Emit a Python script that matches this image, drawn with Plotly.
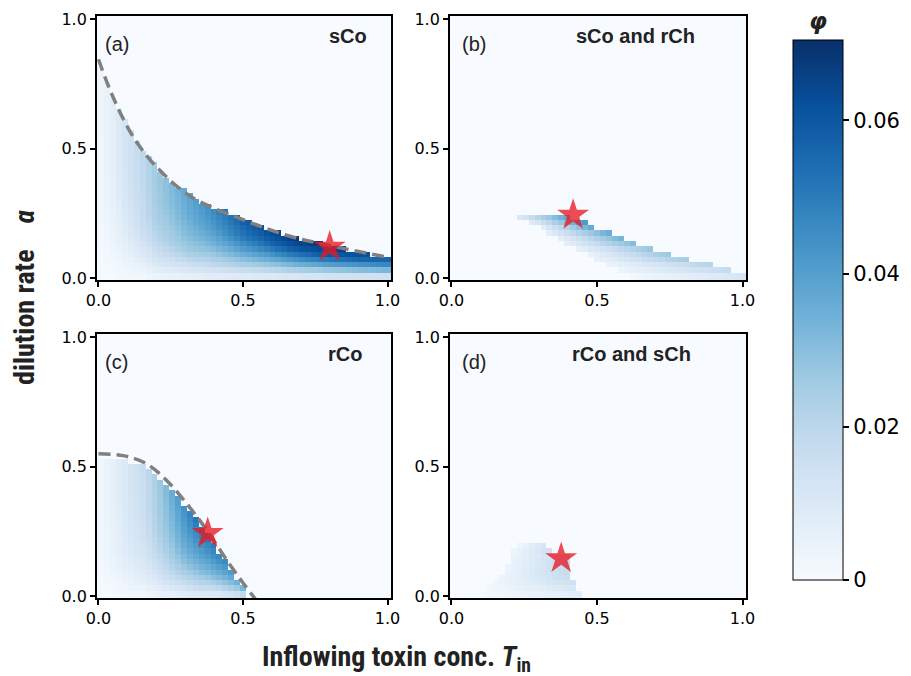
import numpy as np
import plotly.graph_objects as go

# ---------------- data ----------------
N_CELLS = 49
TICK_VALS = [0.0, 0.5, 1.0]
TICK_TEXT = ["0.0", "0.5", "1.0"]
CBAR_TICK_VALS = [0, 0.02, 0.04, 0.06]
CBAR_TICK_TEXT = ["0", "0.02", "0.04", "0.06"]
Z_MAX = 0.0705

PANEL_LABELS = ["(a)", "(b)", "(c)", "(d)"]
PANEL_TITLES = ["sCo", "sCo and rCh", "rCo", "rCo and sCh"]

# dashed boundary curves (Tin, alpha)
A_DASH_T = [0.0, 0.05, 0.12, 0.2, 0.32, 0.5, 0.66, 0.8, 1.0]
A_DASH_ALPHA = [0.845, 0.70, 0.546, 0.43, 0.314, 0.225, 0.162, 0.125, 0.08]
C_DASH_T = [0.0, 0.086, 0.167, 0.236, 0.305, 0.375, 0.444, 0.501, 0.545]
C_DASH_ALPHA = [0.549, 0.542, 0.51, 0.446, 0.357, 0.254, 0.138, 0.049, -0.015]

# red stars
STAR_T = [0.80, 0.418, 0.378, 0.377]
STAR_ALPHA = [0.12, 0.243, 0.242, 0.145]

# panel (a): phi (x1e-3) vs Tin (rows) and relative height alpha/alpha_boundary (cols)
A_TAB_T = [0.0, 0.05, 0.1, 0.15, 0.2, 0.3, 0.4, 0.5, 0.6, 0.7, 0.8, 0.9, 1.0]
A_TAB_FRAC = [0.0, 0.1, 0.2, 0.35, 0.5, 0.7, 1.0]
A_TAB_PHI = [
    [0, 1, 1, 2, 2, 2, 2],
    [1, 2, 4, 5, 6, 7, 7],
    [2, 4, 7, 10, 12, 13, 13],
    [2, 6, 10, 15, 17, 18, 19],
    [3, 9, 14, 20, 23, 25, 26],
    [4, 11, 18, 26, 30, 34, 37],
    [5, 13, 20, 28, 35, 42, 47],
    [5, 14, 22, 32, 41, 51, 58],
    [5, 14, 23, 34, 44, 56, 65],
    [6, 15, 24, 36, 47, 59, 69],
    [6, 15, 24, 36, 47, 59, 69],
    [6, 14, 23, 34, 44, 56, 65],
    [6, 13, 21, 31, 40, 51, 59],
]
A_EDGE_OFFSET = 0.0

# panel (c)
C_TAB_T = [0.0, 0.05, 0.1, 0.15, 0.2, 0.25, 0.3, 0.35, 0.4, 0.45, 0.5]
C_TAB_FRAC = [0.0, 0.1, 0.2, 0.35, 0.5, 0.7, 1.0]
C_TAB_PHI = [
    [0, 1, 1, 2, 2, 2, 2],
    [1, 2, 4, 5, 5, 6, 6],
    [2, 4, 7, 9, 10, 11, 11],
    [2, 6, 9, 12, 14, 15, 16],
    [3, 9, 13, 18, 21, 23, 24],
    [4, 12, 18, 24, 28, 31, 35],
    [6, 14, 21, 29, 35, 40, 46],
    [6, 16, 22, 31, 37, 44, 53],
    [6, 15, 21, 30, 36, 43, 51],
    [6, 14, 20, 27, 32, 38, 45],
    [5, 12, 17, 22, 26, 31, 36],
]
C_EDGE_OFFSET = 0.012

# panel (b): per alpha row (bottom -> top) Tin start, Tin end, phi at the end
B_ROW_LEFT = [0.62, 0.565, 0.535, 0.495, 0.475, 0.43, 0.39, 0.372, 0.333, 0.315, 0.275, 0.22]
B_ROW_RIGHT = [1.01, 0.967, 0.889, 0.809, 0.749, 0.691, 0.628, 0.59, 0.548, 0.49, 0.47, 0.415]
B_ROW_PEAK = [0.012, 0.018, 0.021, 0.025, 0.027, 0.028, 0.031, 0.034, 0.036, 0.038, 0.043, 0.040]

# panel (d)
D_ROW_LEFT = [0.10, 0.125, 0.15, 0.165, 0.175, 0.187, 0.195, 0.198, 0.205, 0.222]
D_ROW_RIGHT = [0.449, 0.43, 0.43, 0.41, 0.41, 0.41, 0.41, 0.41, 0.346, 0.333]
D_ROW_PEAK = [0.008, 0.011, 0.015, 0.017, 0.018, 0.018, 0.018, 0.017, 0.015, 0.013]

BLUES = ["#f7fbff", "#deebf7", "#c6dbef", "#9ecae1", "#6baed6",
         "#4292c6", "#2171b5", "#08519c", "#08306b"]

# ---------------- geometry ----------------
OFF = 8                      # page body margin of the browser
W, H = 911 - OFF, 676 - OFF  # figure size
X_RANGE = [-0.005, 1.012]
Y_RANGE = [-0.008, 1.012]
# screenshot pixel boxes (left, right, top, bottom)
BOXES = [(97, 391, 16, 280), (450, 746, 16, 280), (97, 391, 334, 598), (450, 746, 334, 598)]


def fx(p):
    return (p - OFF) / W


def fy(p):
    return 1 - (p - OFF) / H


edges = np.linspace(0, 1, N_CELLS + 1)
centers = (edges[:-1] + edges[1:]) / 2
x_edges = edges.copy(); x_edges[0] = X_RANGE[0]; x_edges[-1] = X_RANGE[1]
y_edges = edges.copy(); y_edges[0] = Y_RANGE[0]; y_edges[-1] = Y_RANGE[1]


def column_field(dash_t, dash_a, offset, tab_t, tab_f, tab_v):
    z = np.zeros((N_CELLS, N_CELLS))
    tv = np.array(tab_v, dtype=float) * 1e-3
    for j, tc in enumerate(centers):
        ab = np.interp(tc, dash_t, dash_a) - offset
        if ab <= 0:
            continue
        prof = [np.interp(tc, tab_t, tv[:, k]) for k in range(len(tab_f))]
        for i, ac in enumerate(centers):
            if ac < ab:
                z[i, j] = np.interp(ac / ab, tab_f, prof)
    return z


def row_field(left, right, peak, base=0.2):
    z = np.zeros((N_CELLS, N_CELLS))
    for i in range(len(left)):
        for j, tc in enumerate(centers):
            if left[i] < tc < right[i]:
                t = (tc - left[i]) / (right[i] - left[i])
                z[i, j] = peak[i] * (base + (1 - base) * t)
    return z


Z = [
    column_field(A_DASH_T, A_DASH_ALPHA, A_EDGE_OFFSET, A_TAB_T, A_TAB_FRAC, A_TAB_PHI),
    row_field(B_ROW_LEFT, B_ROW_RIGHT, B_ROW_PEAK),
    column_field(C_DASH_T, C_DASH_ALPHA, C_EDGE_OFFSET, C_TAB_T, C_TAB_FRAC, C_TAB_PHI),
    row_field(D_ROW_LEFT, D_ROW_RIGHT, D_ROW_PEAK),
]

colorscale = [[k / (len(BLUES) - 1), c] for k, c in enumerate(BLUES)]

fig = go.Figure()
layout = dict(
    width=W, height=H,
    margin=dict(l=0, r=0, t=0, b=0, autoexpand=False),
    paper_bgcolor="white", plot_bgcolor="#f7fbff",
    showlegend=False,
)

TICK_FONT = dict(family="DejaVu Sans", size=16, color="black")
annotations = []
for p in range(4):
    l, r, t, b = BOXES[p]
    xa = "xaxis" if p == 0 else f"xaxis{p+1}"
    ya = "yaxis" if p == 0 else f"yaxis{p+1}"
    xr = "x" if p == 0 else f"x{p+1}"
    yr = "y" if p == 0 else f"y{p+1}"
    common = dict(showline=True, mirror=True, linecolor="black", linewidth=1.8,
                  ticks="outside", ticklen=5, tickwidth=1.5, tickcolor="black",
                  tickvals=TICK_VALS, ticktext=TICK_TEXT, tickfont=TICK_FONT,
                  showgrid=False, zeroline=False, fixedrange=True)
    layout[xa] = dict(domain=[fx(l), fx(r)], range=X_RANGE, anchor=yr, **common)
    layout[ya] = dict(domain=[fy(b), fy(t)], range=Y_RANGE, anchor=xr, **common)

    hm = dict(z=Z[p], x=x_edges, y=y_edges, colorscale=colorscale, zmin=0, zmax=Z_MAX,
              xaxis=xr, yaxis=yr, hoverinfo="skip")
    if p == 0:
        hm.update(showscale=True, colorbar=dict(
            x=fx(793), xanchor="left", y=fy(310), yanchor="middle",
            len=540, lenmode="pixels", thickness=50, thicknessmode="pixels",
            xpad=0, ypad=0, outlinewidth=1, outlinecolor="black",
            ticks="outside", ticklen=6, tickwidth=1.5, tickcolor="black",
            tickvals=CBAR_TICK_VALS, ticktext=CBAR_TICK_TEXT,
            tickfont=dict(family="DejaVu Sans", size=21, color="black")))
    else:
        hm["showscale"] = False
    fig.add_trace(go.Heatmap(**hm))

    if p == 0:
        fig.add_trace(go.Scatter(x=A_DASH_T, y=A_DASH_ALPHA, mode="lines", xaxis=xr, yaxis=yr,
                                 line=dict(color="#808080", width=3.5, dash="12px,6px", shape="spline"),
                                 hoverinfo="skip"))
    if p == 2:
        fig.add_trace(go.Scatter(x=C_DASH_T, y=C_DASH_ALPHA, mode="lines", xaxis=xr, yaxis=yr,
                                 line=dict(color="#808080", width=3.5, dash="12px,6px", shape="spline"),
                                 hoverinfo="skip"))
    fig.add_trace(go.Scatter(x=[STAR_T[p]], y=[STAR_ALPHA[p]], mode="markers", xaxis=xr, yaxis=yr,
                             marker=dict(symbol="star", size=24, color="rgba(232,25,35,0.78)",
                                         line=dict(width=0)),
                             hoverinfo="skip", cliponaxis=False))

    annotations.append(dict(x=0.017 if p in (0, 2) else 0.028, y=0.905, xref=xr, yref=yr,
                            text=PANEL_LABELS[p], showarrow=False, xanchor="left", yanchor="middle",
                            font=dict(family="Liberation Sans, Arial", size=20, color="#222")))
    tx = [0.864, 0.631, 0.854, 0.62][p]
    annotations.append(dict(x=tx, y=0.936, xref=xr, yref=yr,
                            text=f"<b>{PANEL_TITLES[p]}</b>", showarrow=False,
                            xanchor="center", yanchor="middle",
                            font=dict(family="Liberation Sans, Arial", size=20, color="#222")))

TITLE_FONT = dict(family="Liberation Sans Narrow, Roboto Condensed, Roboto", size=28, color="#222")
annotations.append(dict(x=fx(24), y=fy(298), xref="paper", yref="paper",
                        text="<b>dilution rate    <i>α</i></b>", textangle=-90, showarrow=False,
                        xanchor="center", yanchor="middle", font=TITLE_FONT))
annotations.append(dict(x=fx(396), y=fy(658), xref="paper", yref="paper",
                        text="<b>Inflowing toxin conc. <i>T</i><sub>in</sub></b>", showarrow=False,
                        xanchor="center", yanchor="middle", font=TITLE_FONT))
annotations.append(dict(x=fx(818), y=fy(21), xref="paper", yref="paper",
                        text="<b><i>φ</i></b>", showarrow=False,
                        xanchor="center", yanchor="middle",
                        font=dict(family="DejaVu Sans", size=23, color="#222")))
layout["annotations"] = annotations

fig.update_layout(**layout)
fig.write_html("out.html")
